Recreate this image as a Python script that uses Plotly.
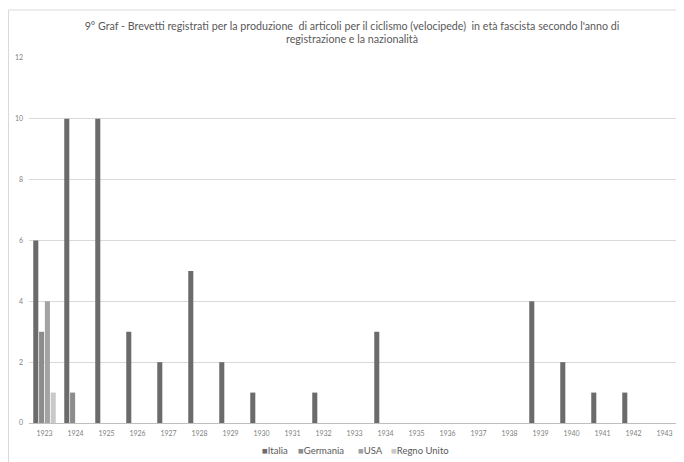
import plotly.graph_objects as go

years = [str(y) for y in range(1923, 1944)]
italia = [6, 10, 10, 3, 2, 5, 2, 1, 0, 1, 0, 3, 0, 0, 0, 0, 4, 2, 1, 1, 0]
germania = [3, 1] + [0] * 19
usa = [4, 0] + [0] * 19
regno_unito = [1, 0] + [0] * 19

series = [
    ("Italia", italia, "#6b6b6b"),
    ("Germania", germania, "#8c8c8c"),
    ("USA", usa, "#a3a3a3"),
    ("Regno Unito", regno_unito, "#c9c9c9"),
]

fig = go.Figure()
for name, vals, col in series:
    fig.add_trace(go.Bar(x=years, y=vals, name=name, showlegend=False,
                         marker=dict(color=col, line=dict(width=0))))

# the page body adds an 8px offset; work in window pixels and compensate
OFF = 8
WW, WH = 684, 462
W, H = WW - OFF, WH - OFF
PL, PR, PT, PB = 28.5, 680.5, 58, 423          # plot area in window pixels
l, r, t, b = PL - OFF, WW - PR, PT - OFF, WH - PB
pw, ph = PR - PL, PB - PT

def px_x(x):
    return (x - PL) / pw

def px_y(y):
    return (PB - y) / ph

legend_x = [260, 296, 356, 389]
annotations = []
for (name, vals, col), lx in zip(series, legend_x):
    annotations.append(dict(
        text=f"<span style='color:{col}'>■</span>{name}",
        xref="paper", yref="paper", x=px_x(lx), y=px_y(451),
        xanchor="left", yanchor="middle", showarrow=False,
        font=dict(size=9.5, color="#595959"),
    ))

fig.update_layout(
    width=W, height=H,
    margin=dict(l=l, r=r, t=t, b=b, autoexpand=False),
    paper_bgcolor="white", plot_bgcolor="white",
    barmode="group", bargap=0.25, bargroupgap=0.13,
    showlegend=False,
    font=dict(family="Lato, Open Sans, sans-serif", color="#595959"),
    title=dict(
        text="9° Graf - Brevetti registrati per la produzione  di articoli per il ciclismo (velocipede)  in età fascista secondo l'anno di<br>registrazione e la nazionalità",
        x=px_x(352), xanchor="center", xref="paper",
        y=1 - (29.5 - OFF) / H, yanchor="middle", yref="container",
        font=dict(size=10.7, color="#595959"),
    ),
    xaxis=dict(
        type="category", showgrid=False, showline=True, linecolor="#bfbfbf", linewidth=1,
        ticks="", tickfont=dict(size=7, color="#7f7f7f"), fixedrange=True, automargin=False,
        ticklabelstandoff=4,
    ),
    yaxis=dict(
        range=[0, 12], dtick=2, showgrid=True, gridcolor="#d9d9d9", gridwidth=1,
        zeroline=False, showline=False, ticks="", tickfont=dict(size=7, color="#7f7f7f"),
        ticklabelstandoff=5, automargin=False,
    ),
    annotations=annotations,
    shapes=[dict(
        type="rect", xref="paper", yref="paper",
        x0=px_x(8), x1=1.2, y0=-0.3, y1=px_y(10),
        line=dict(color="#d9d9d9", width=1), fillcolor="rgba(0,0,0,0)", layer="below",
    )],
)

fig.write_html("out.html")
